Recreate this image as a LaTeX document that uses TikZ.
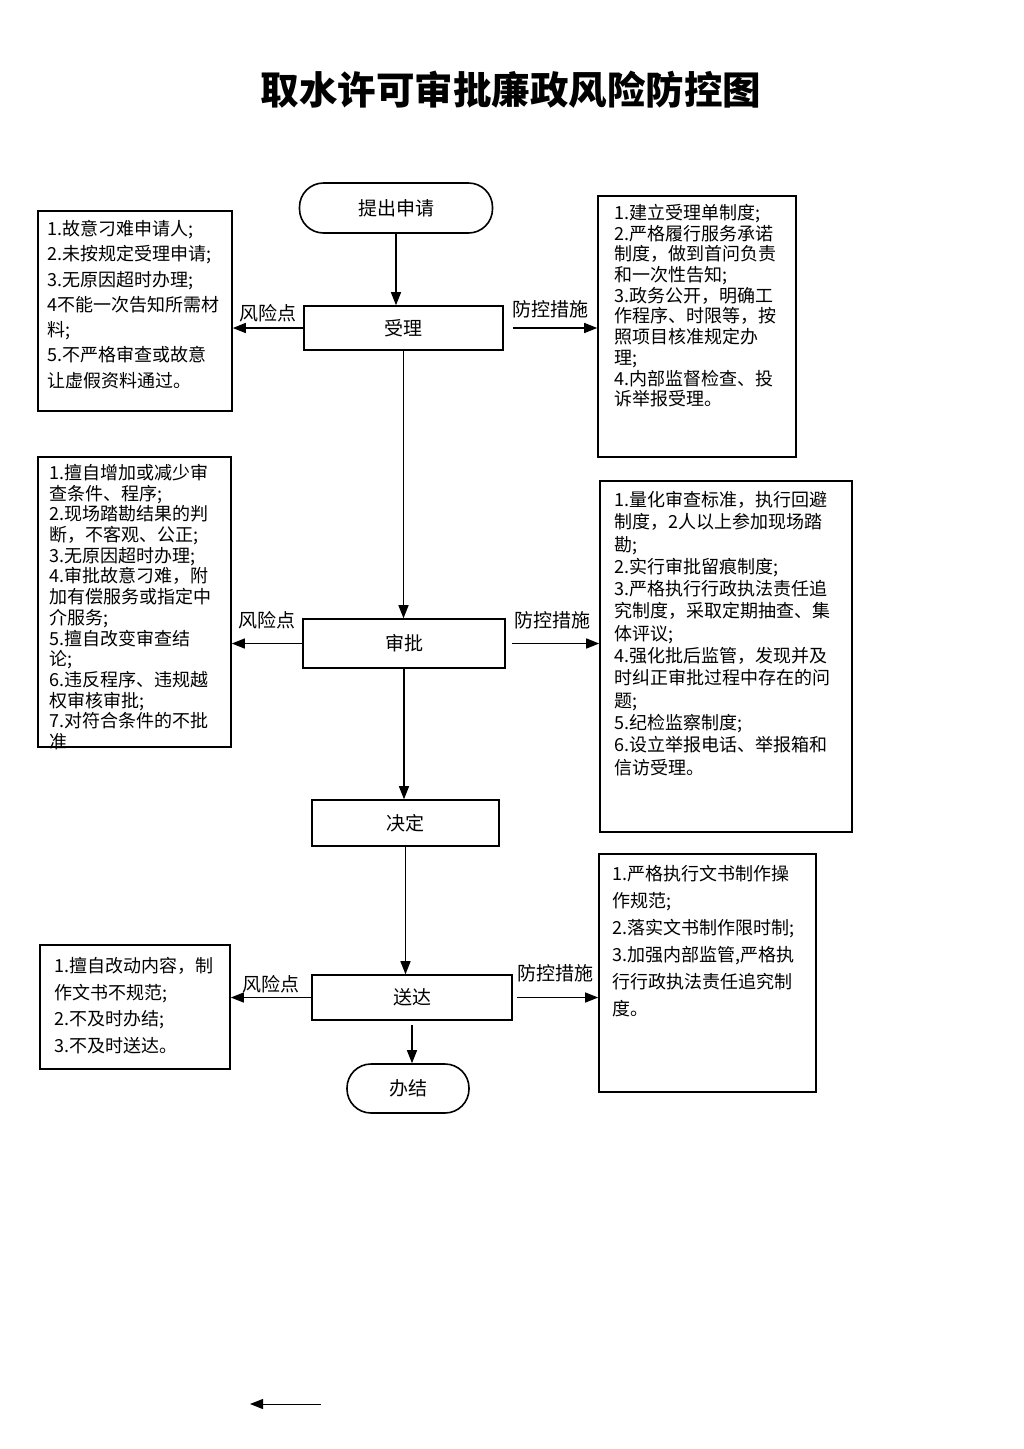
\documentclass[tikz,border=0pt]{standalone}
\usepackage{fontspec}
\setmainfont{Noto Sans CJK SC}
\usetikzlibrary{arrows.meta}
\tikzset{
  flowbox/.style={draw, line width=1.6pt, inner sep=0pt, font=\fontsize{19}{22}\selectfont},
  endbox/.style={flowbox, rounded corners=24pt},
  notebox/.style={draw, line width=1.6pt, inner sep=0pt},
  notetext/.style={anchor=north west, align=left, inner sep=0pt, font=\fontsize{18}{#1}\selectfont},
  sidelabel/.style={font=\fontsize{19}{22}\selectfont, inner sep=3pt},
  flowarrow/.style={line width=1.3pt, -{Triangle[length=13pt,width=10pt]}},
}

\begin{document}
\begin{tikzpicture}[x=1pt, y=-1pt]
			%%%%% START %%%%%
			\useasboundingbox (0,0) rectangle (1024,1449);
			
			\node[font=\bfseries\fontsize{38.5}{46}\selectfont] (title) at (511,90) {取水许可审批廉政风险防控图};
			
			% main flow
			\node[endbox, minimum width=193pt, minimum height=50pt] (apply) at (396,208) {提出申请};
			\node[flowbox, minimum width=199pt, minimum height=44pt] (accept) at (403.5,328) {受理};
			\node[flowbox, minimum width=202pt, minimum height=49pt] (review) at (404,643.5) {审批};
			\node[flowbox, minimum width=187pt, minimum height=46pt] (decide) at (405.5,823) {决定};
			\node[flowbox, minimum width=200pt, minimum height=45pt] (deliver) at (412,997.5) {送达};
			\node[endbox, minimum width=122pt, minimum height=49pt] (finish) at (408,1088.5) {办结};
			
			\draw[flowarrow] (apply.south) -- (apply.south |- accept.north);
			\draw[flowarrow] (accept.south) -- (accept.south |- review.north);
			\draw[flowarrow] (review.south) -- (review.south |- decide.north);
			\draw[flowarrow] (decide.south) -- (decide.south |- deliver.north);
			\draw[flowarrow, shorten <=4pt] (deliver.south) -- (deliver.south |- finish.north);
			
			% risk points and measures, step 1
			\node[notebox, minimum width=194pt, minimum height=200pt] (risk1) at (135,311) {};
			\node[notetext=25.3, text width=182pt] (risk1txt) at (47,220) {1.故意刁难申请人;\\2.未按规定受理申请;\\3.无原因超时办理;\\4不能一次告知所需材\\料;\\5.不严格审查或故意\\让虚假资料通过。};
			\node[notebox, minimum width=198pt, minimum height=261pt] (ctrl1) at (697,326.5) {};
			\node[notetext=20.7, text width=176pt] (ctrl1txt) at (614,204) {1.建立受理单制度;\\2.严格履行服务承诺\\制度，做到首问负责\\和一次性告知;\\3.政务公开，明确工\\作程序、时限等，按\\照项目核准规定办\\理;\\4.内部监督检查、投\\诉举报受理。};
			
			\draw[flowarrow] (accept.west) -- node[sidelabel, above, yshift=2pt] (risk1lbl) {风险点} (accept.west -| risk1.east);
			\draw[flowarrow, shorten <=9pt] (accept.east) -- node[sidelabel, above, yshift=6pt] (ctrl1lbl) {防控措施} (accept.east -| ctrl1.west);
			
			% step 2
			\node[notebox, minimum width=193pt, minimum height=290pt] (risk2) at (134.5,602) {};
			\node[notetext=20.7, text width=178pt] (risk2txt) at (49,464) {1.擅自增加或减少审\\查条件、程序;\\2.现场踏勘结果的判\\断，不客观、公正;\\3.无原因超时办理;\\4.审批故意刁难，附\\加有偿服务或指定中\\介服务;\\5.擅自改变审查结\\论;\\6.违反程序、违规越\\权审核审批;\\7.对符合条件的不批\\准};
			\node[notebox, minimum width=252pt, minimum height=351pt] (ctrl2) at (726,656.5) {};
			\node[notetext=22.3, text width=228pt] (ctrl2txt) at (614,491) {1.量化审查标准，执行回避\\制度，2人以上参加现场踏\\勘;\\2.实行审批留痕制度;\\3.严格执行行政执法责任追\\究制度，采取定期抽查、集\\体评议;\\4.强化批后监管，发现并及\\时纠正审批过程中存在的问\\题;\\5.纪检监察制度;\\6.设立举报电话、举报箱和\\信访受理。};
			
			\draw[flowarrow] (review.west) -- node[sidelabel, above, yshift=11pt] (risk2lbl) {风险点} (review.west -| risk2.east);
			\draw[flowarrow, shorten <=6pt] (review.east) -- node[sidelabel, above, yshift=11pt] (ctrl2lbl) {防控措施} (review.east -| ctrl2.west);
			
			% step 3
			\node[notebox, minimum width=190pt, minimum height=124pt] (risk3) at (135,1007) {};
			\node[notetext=26.7, text width=170pt] (risk3txt) at (54,957) {1.擅自改动内容，制\\作文书不规范;\\2.不及时办结;\\3.不及时送达。};
			\node[notebox, minimum width=217pt, minimum height=238pt] (ctrl3) at (707.5,973) {};
			\node[notetext=27, text width=196pt] (ctrl3txt) at (612,865) {1.严格执行文书制作操\\作规范;\\2.落实文书制作限时制;\\3.加强内部监管,严格执\\行行政执法责任追究制\\度。};
			
			\draw[flowarrow] (deliver.west) -- node[sidelabel, above, yshift=1pt] (risk3lbl) {风险点} (deliver.west -| risk3.east);
			\draw[flowarrow, shorten <=4pt] (deliver.east) -- node[sidelabel, above, yshift=12pt] (ctrl3lbl) {防控措施} (deliver.east -| ctrl3.west);
			
			% loose arrow at the foot of the page
			\coordinate (loosestart) at (321,1404);
			\coordinate (looseend) at (250,1404);
			\draw[flowarrow, line width=1pt] (loosestart) -- (looseend);
			
			%%%%% END %%%%%
		\end{tikzpicture}
\end{document}
